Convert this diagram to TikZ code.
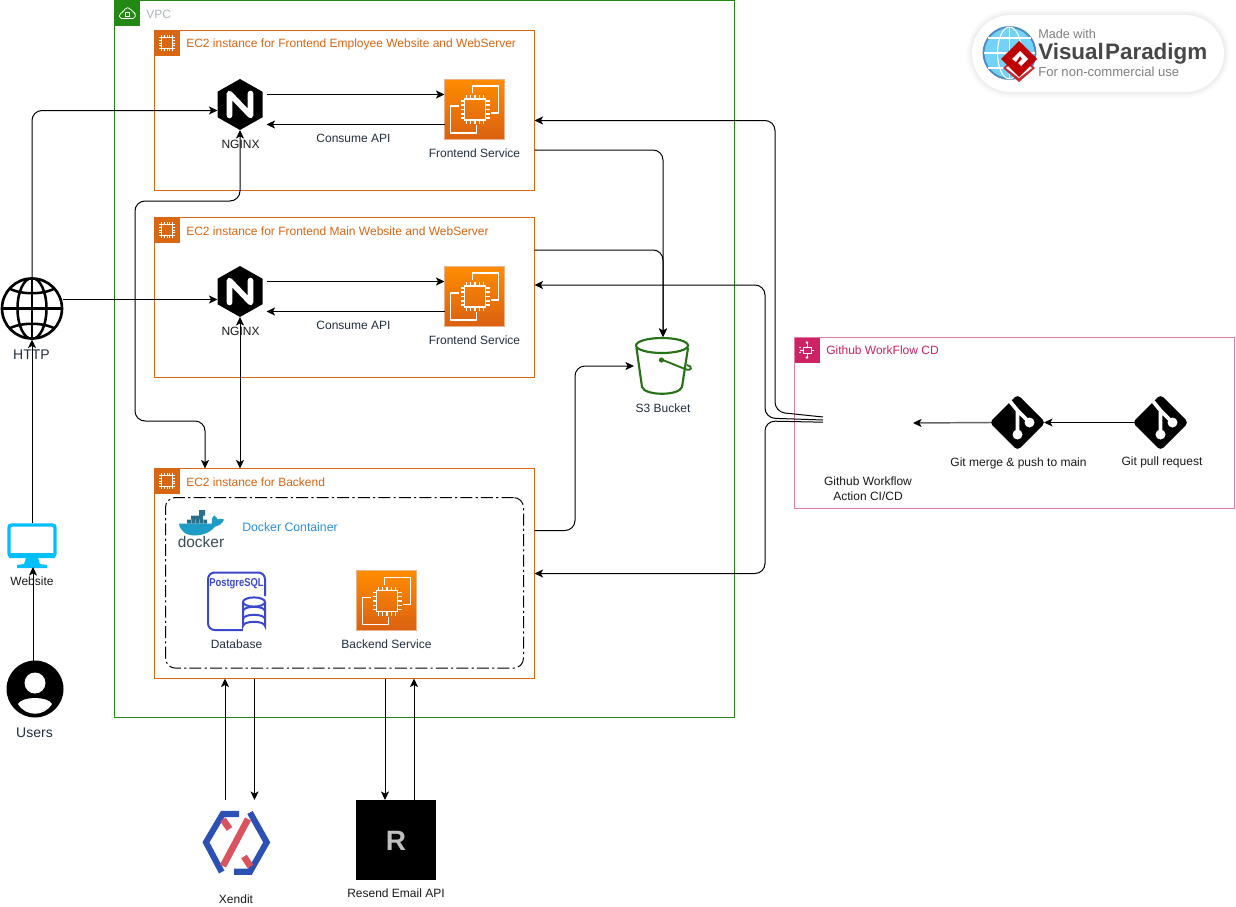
\documentclass[tikz,border=0pt]{standalone}
\usepackage{fontspec}
\setmainfont{Liberation Sans}
\usetikzlibrary{arrows.meta,calc}
\definecolor{vpcgreen}{HTML}{248814}
\definecolor{ec2orange}{HTML}{D86613}
\definecolor{ink}{HTML}{232F3E}
\definecolor{ghpink}{HTML}{CD2264}
\definecolor{ghline}{HTML}{E87BA6}
\definecolor{s3green}{HTML}{277116}
\definecolor{pgblue}{HTML}{3B48CC}
\definecolor{dockblue}{HTML}{2B8FE0}
\definecolor{cyanmon}{HTML}{00BFFF}
\definecolor{xblue}{HTML}{2D50B5}
\definecolor{xred}{HTML}{D9545E}
\definecolor{dockdark}{HTML}{2A6F8A}
\definecolor{dockbody}{HTML}{1D9CC6}
\definecolor{dockword}{HTML}{394D54}
\definecolor{vpcgray}{HTML}{AAB7B8}
\tikzset{
  conn/.style={draw=black,line width=.75pt,-{Stealth[length=6.4pt,width=6pt,inset=1.6pt]},rounded corners=7.5pt},
  connboth/.style={conn,{Stealth[length=6.4pt,width=6pt,inset=1.6pt]}-{Stealth[length=6.4pt,width=6pt,inset=1.6pt]}},
  group/.style={draw=#1,line width=.75pt,inner sep=0,outer sep=0,fill=none},
  ec2box/.style={group=ec2orange,minimum width=285pt,anchor=north west},
  slot/.style={inner sep=0,outer sep=0,minimum width=#1},
  lbl/.style={font=\fontsize{9}{11}\selectfont,text=ink,inner sep=0,align=center},
  lblk/.style={font=\fontsize{9}{11}\selectfont,text=black!90,inner sep=0,align=center},
  title/.style={font=\fontsize{9}{11}\selectfont,inner sep=0,anchor=west},
  ec2small/.pic={
    \fill[ec2orange] (0,0) rectangle (25,25);
    \draw[white,line width=.9pt] (7,7) rectangle (18,18);
    \foreach \p in {7,9.75,12.5,15.25,18}{
      \draw[white,line width=.5pt] (\p,7)--(\p,4.5) (\p,18)--(\p,20.5) (7,\p)--(4.5,\p) (18,\p)--(20.5,\p);}
  },
  svcicon/.pic={
    \shade[top color=orange!90!yellow,bottom color=ec2orange!95!red,draw=ec2orange!50!white,line width=.4pt] (-30,-30) rectangle (30,30);
    \draw[white,line width=1.2pt,line join=round] (-2,-16)--(-2,-23)--(24,-23)--(24,4)--(16,4);
    \draw[white,line width=1.2pt,line join=round] (-16,-3)--(-24,-3)--(-24,24)--(2,24)--(2,16);
    \draw[white,line width=1.3pt] (-10,-10) rectangle (11,11);
    \foreach \p in {-8,-4,0.5,5,9}{
      \draw[white,line width=.8pt] (\p,-10)--(\p,-14) (\p,11)--(\p,15) (-10,\p)--(-14,\p) (11,\p)--(15,\p);}
  },
  ngicon/.pic={
    \fill[black] (0,-25.5)--(22.5,-12.75)--(22.5,12.75)--(0,25.5)--(-22.5,12.75)--(-22.5,-12.75)--cycle;
    \draw[white,line width=4.2pt,line join=round,line cap=round] (-10.5,11)--(-10.5,-11)--(10.5,11)--(10.5,-11);
  },
  gitglyph/.pic={
    \fill[black,rounded corners=3pt] (0,-28)--(28,0)--(0,28)--(-28,0)--cycle;
    \draw[white,line width=2.8pt] (-9,-23)--(0,-12)--(0,12) (0,-12)--(12,0);
    \fill[white] (0,12) circle (5) (12,0) circle (5);
  }
}
\begin{document}
\begin{tikzpicture}[x=.75pt,y=-.75pt]
\useasboundingbox (0,0) rectangle (1236,907);
\fill[white] (0,0) rectangle (1236,907);

% ---- watermark
\foreach \w/\o in {12/.012,9/.016,6/.02,3/.025}{
  \draw[black,opacity=\o,line width=\w*.75pt,rounded corners=29pt] (972,15) rectangle (1224,92);}
\fill[white,rounded corners=29pt] (972,15) rectangle (1224,92);
\begin{scope}
  \fill[cyan!55!white] (1009.5,53) circle (26);
  \draw[teal!70!blue!70!white,line width=1.4pt] (1009.5,53) circle (26);
  \draw[white,line width=.8pt] (1009.5,27)--(1009.5,79) (984,53)--(1035,53) (988,38)--(1031,38) (988,68)--(1031,68);
  \draw[white,line width=.8pt] (1009.5,53) ellipse (12 and 26);
  \fill[xred!60!red!85!black] (1019,82)--(1003,68)--(1019,54)--(1035,68)--cycle;
  \fill[white] (1019,78)--(1006,68)--(1019,58)--(1032,68)--cycle;
  \fill[red!75!black] (1019,77)--(1001,59)--(1019,41)--(1037,59)--cycle;
  \fill[white] (1012,59)--(1020,51)--(1028,59)--(1021,66)--(1018,63)--(1022,59)--(1020,56)--(1016,62)--cycle;
\end{scope}
\node[anchor=west,inner sep=0,text=black!50,font=\fontsize{9.5}{11}\selectfont] (vpa) at (1038,34) {Made with};
\node[anchor=west,inner sep=0,text=black!72,font=\fontsize{16.8}{18}\bfseries\selectfont] (vpb) at (1038,54) {Visual\kern1pt Paradigm};
\node[anchor=west,inner sep=0,text=black!50,font=\fontsize{9.8}{11}\selectfont] (vpd) at (1038,72) {For non-commercial use};

% ---- VPC
\node[group=vpcgreen,minimum width=465pt,minimum height=537.75pt,anchor=north west] (vpc) at (114.5,.5) {};
\fill[vpcgreen] (114.5,.5) rectangle (139.5,25.5);
\draw[white,line width=.55pt,rounded corners=1.5pt] (119.5,18.5)--(135,18.5)--(135.5,13)--(132,11.5)--(130,8)--(125.5,7.5)--(123.5,12)--(119,14)--cycle;
\draw[white,line width=.5pt] (125.5,12.5) rectangle (129.5,16);
\node[title,text=vpcgray] (vpct) at (146,14) {VPC};

% ---- EC2 frontend employee
\node[ec2box,minimum height=120pt] (ec2a) at (154.5,30.5) {};
\pic at (154.5,30.5) {ec2small};
\node[title,text=ec2orange] (ec2at) at (186,44.5) {EC2 instance for Frontend Employee Website and WebServer};
\node[slot=33.75pt,minimum height=38.25pt] (nginx1) at (240,104.5) {};
\pic at (nginx1) {ngicon};
\node[lblk] (nginx1l) at (240.5,144) {NGINX};
\node[slot=45pt,minimum height=45pt] (svc1) at (474.5,109) {};
\pic at (svc1) {svcicon};
\node[lbl] (svc1l) at (474.5,153) {Frontend Service};
\node[lbl] (api1) at (353.5,138) {Consume API};

% ---- EC2 frontend main
\node[ec2box,minimum height=120pt] (ec2m) at (154.5,217.5) {};
\pic at (154.5,217.5) {ec2small};
\node[title,text=ec2orange] (ec2mt) at (186,231.5) {EC2 instance for Frontend Main Website and WebServer};
\node[slot=33.75pt,minimum height=38.25pt] (nginx2) at (240,291.5) {};
\pic at (nginx2) {ngicon};
\node[lblk] (nginx2l) at (240.5,331) {NGINX};
\node[slot=45pt,minimum height=45pt] (svc2) at (474.5,296) {};
\pic at (svc2) {svcicon};
\node[lbl] (svc2l) at (474.5,340) {Frontend Service};
\node[lbl] (api2) at (353.5,325) {Consume API};

% ---- EC2 backend
\node[ec2box,minimum height=157.5pt] (ec2b) at (154.5,468.5) {};
\pic at (154.5,468.5) {ec2small};
\node[title,text=ec2orange] (ec2bt) at (186,482) {EC2 instance for Backend};
\node[draw=black,line width=.75pt,dash pattern=on 9pt off 2.4pt on 1.6pt off 2.4pt,rounded corners=7.5pt,minimum width=268.5pt,minimum height=128pt,inner sep=0,outer sep=0,anchor=north west] (dock) at (165.5,497.5) {};
% docker logo
\node[slot=36pt,minimum height=33pt] (docklogo) at (201,529) {};
\fill[dockdark] (187,519.5) rectangle (207,523.5) (191,515.5) rectangle (203,519.5) (199,510) rectangle (205,515.5);
\fill[white] (191,519.3) rectangle (191.4,523.5) (195,519.3) rectangle (195.4,523.5) (199,519.3) rectangle (199.4,523.5) (203,519.3) rectangle (203.4,523.5);
\fill[dockbody] (179,523.5)--(212,523.5) .. controls (211,519) and (213,516) .. (214.5,515.5) .. controls (216.5,517) and (217,518.5) .. (217.5,519.5) .. controls (220,518.5) and (222,518.5) .. (224,519.5) .. controls (222,524.5) and (218,526) .. (215,526.5) .. controls (210,533) and (202,535.5) .. (195,535.5) .. controls (186,535.5) and (180,531) .. (179,523.5) -- cycle;
\node[inner sep=0,text=dockword,font=\fontsize{11.6}{13}\selectfont] (dockw) at (201,542) {docker};
\node[title,text=dockblue,font=\fontsize{9.2}{11}\selectfont] (dockt) at (242,527) {Docker Container};
% postgres
\node[slot=44.25pt,minimum height=44pt] (pg) at (236.5,601) {};
\draw[pgblue,line width=1.5pt,rounded corners=5pt] (265,596)--(265,572.5)--(208,572.5)--(208,630)--(243,630);
\fill[white] (243,597) rectangle (266,631);
\draw[pgblue,line width=1.5pt] (243,602)--(243,626) arc[start angle=180,end angle=0,x radius=11,y radius=-4.2]--(265,602);
\draw[pgblue,line width=1.5pt] (254,602) ellipse (11 and 4.6);
\draw[pgblue,line width=1.5pt] (243,611) arc[start angle=180,end angle=0,x radius=11,y radius=-4.2] (243,619) arc[start angle=180,end angle=0,x radius=11,y radius=-4.2];
\node[inner sep=0,text=pgblue,font=\fontsize{8.6}{9}\bfseries\selectfont] (pgt) at (236.5,583.5) {\scalebox{.82}[1]{PostgreSQL}};
\node[lbl] (pgl) at (236.5,644) {Database};
\node[slot=45pt,minimum height=45pt] (svc3) at (386.5,600.5) {};
\pic at (svc3) {svcicon};
\node[lbl] (svc3l) at (386.5,644) {Backend Service};

% ---- S3
\node[slot=43.5pt,minimum height=43.5pt] (s3) at (663,366) {};
\draw[s3green,line width=1.6pt] (662,345.5) ellipse (26 and 7.5);
\draw[s3green,line width=1.6pt] (636.5,348) -- (642,387) .. controls (645,396) and (679,396) .. (682,387) -- (688,348);
\draw[s3green,line width=1.4pt] (664,360.5) -- (685,369) .. controls (692,372) and (693,366) .. (687,365);
\fill[s3green] (661.5,360) circle (2.6);
\node[lbl] (s3l) at (663,408.5) {S3 Bucket};

% ---- Github workflow
\node[draw=ghline,line width=1pt,inner sep=0,outer sep=0,minimum width=330pt,minimum height=128pt,anchor=north west] (gh) at (794.5,337.5) {};
\fill[ghpink] (794.5,337.5) rectangle (819.5,362.5);
\draw[white,line width=.5pt] (800,350)--(814,350) (807,343)--(807,357);
\draw[white,line width=.5pt,fill=ghpink] (803,347) rectangle (811,353);
\fill[white] (807,342.5) circle (1.3) (807,357.5) circle (1.3) (800,347.5) circle (.9) (800,352.5) circle (.9);
\node[title,text=ghpink] (ght) at (826,350) {Github WorkFlow CD};
\node[slot=67.5pt,minimum height=45pt] (gha) at (868,423) {};
\node[lblk] (ghal) at (868,488.5) {Github Workflow\\Action CI/CD};
\node[slot=39.75pt,minimum height=39.75pt] (merge) at (1017.5,422.5) {};
\pic at (merge) {gitglyph};
\node[lblk] (mergel) at (1018.5,463) {Git merge \& push to main};
\node[slot=39.75pt,minimum height=39.75pt] (pull) at (1160.5,422.5) {};
\pic at (pull) {gitglyph};
\node[lblk] (pulll) at (1162,462) {Git pull request};

% ---- left column
\node[slot=46.5pt,minimum height=46.5pt] (globe) at (32,308.5) {};
\begin{scope}
  \clip (32,308.5) circle (30.5);
  \draw[black,line width=1.9pt] (32,278)--(32,339) (1,308.5)--(63,308.5);
  \draw[black,line width=1.9pt] (32,308.5) ellipse (14.5 and 30.5);
  \draw[black,line width=1.9pt] (4,285) .. controls (16,296) and (48,296) .. (60,285);
  \draw[black,line width=1.9pt] (4,332) .. controls (16,321) and (48,321) .. (60,332);
\end{scope}
\draw[black,line width=2pt] (32,308.5) circle (30);
\node[lbl,font=\fontsize{10.5}{12}\selectfont] (globel) at (31.5,355) {HTTP};
\node[slot=37.5pt,minimum height=33pt] (website) at (32,545) {};
\draw[cyanmon,line width=2.6pt,rounded corners=2pt] (9,525) rectangle (55,556);
\fill[cyanmon] (9,553) rectangle (55,558) (26,558)--(38,558)--(40,564)--(47,565)--(47,568)--(17,568)--(17,565)--(24,564)--cycle;
\node[lblk] (websitel) at (32,581) {Website};
\node[slot=42pt,minimum height=42pt] (users) at (33,689) {};
\fill[black] (35,689) circle (28.5);
\fill[white] (35,683) circle (10.5);
\fill[white] (18,704) .. controls (22,696) and (48,696) .. (52,704) .. controls (44,717) and (26,717) .. (18,704) -- cycle;
\node[lbl,font=\fontsize{10.5}{12}\selectfont] (usersl) at (34.5,732.5) {Users};

% ---- external
\node[slot=60pt,minimum height=60pt] (xendit) at (236,840) {};
\draw[xblue,line width=4.6pt,line join=miter] (239,814)--(222.7,814)--(206,842.3)--(221.7,872);
\draw[xblue,line width=4.6pt,line join=miter] (250,812.5)--(266.7,842.3)--(250,871.7)--(234,871.7);
\draw[xred,line width=5pt] (248,819)--(223,866);
\draw[xred,line width=5pt] (223,819.5)--(229.5,829);
\draw[xred,line width=5pt] (244,856.5)--(250.5,866.5);
\node[lblk] (xenditl) at (236,899.5) {Xendit};
\node[fill=black,slot=60pt,minimum height=60pt] (resend) at (396,840) {};
\node[inner sep=0,text=black!25,font=\fontsize{21}{22}\bfseries\selectfont] (resendr) at (396,841) {R};
\node[lblk] (resendl) at (396,893.5) {Resend Email API};

% ---- connectors
\draw[conn] ($(nginx1.east)+(4,-10)$) -- ($(svc1.west)+(0,-14.5)$);
\draw[conn] ($(svc1.west)+(0,15.5)$) -- ($(nginx1.east)+(4,20)$);
\draw[conn] ($(nginx2.east)+(4,-10)$) -- ($(svc2.west)+(0,-14.5)$);
\draw[conn] ($(svc2.west)+(0,15.5)$) -- ($(nginx2.east)+(4,20)$);

\coordinate (n1in) at ($(nginx1.west)+(0,6)$);
\draw[conn] (globe.north) -- (globe.north |- n1in) -- (n1in);
\coordinate (n2in) at ($(nginx2.west)+(0,8)$);
\coordinate (gout) at (globe.east |- n2in);
\draw[conn] (gout) -- (n2in);
\draw[conn] (website.north) -- (globe.south);
\draw[conn] (users.north) -- (users.north |- website.south);

\coordinate (bk1) at ($(ec2b.north west)+(50.5,0)$);
\draw[connboth] (nginx1.south) -- ++(0,71) -- ++(-105,0) -- ++(0,220) -- ++(70,0) -- (bk1);
\draw[connboth] (nginx2.south) -- (nginx2.south |- ec2b.north);

\coordinate (a1) at ($(ec2a.east)+(0,39.5)$);
\draw[conn] (a1) -- (s3.north |- a1) -- (s3.north);
\coordinate (m1) at ($(ec2m.east)+(0,-47.5)$);
\draw[conn] (m1) -- (s3.north |- m1) -- (s3.north);
\coordinate (b1) at ($(ec2b.east)+(0,-43)$);
\draw[conn] (b1) -- ++(40.5,0) -- ++(0,-164.5) -- (s3.west);

\coordinate (g1) at ($(gha.west)+(0,-6)$);
\coordinate (g2) at ($(gha.west)+(0,-3)$);
\coordinate (g3) at ($(gha.west)+(0,-.8)$);
\coordinate (t1) at ($(ec2a.east)+(0,10)$);
\coordinate (t2) at ($(ec2m.east)+(0,-12.5)$);
\draw[conn] (g1) -- (775,412) -- (775,120.5) -- (t1);
\draw[conn] (g2) -- (765,418) -- (765,285) -- (t2);
\draw[conn] (g3) -- (765,421) -- (765,573.5) -- (ec2b.east);

\draw[conn,draw=black!60,line width=1.1pt,-{Stealth[length=6.4pt,width=6pt,inset=1.6pt,color=black]}] (merge.west) -- (gha.east);
\draw[conn] (pull.west) -- (merge.east);

\coordinate (xa) at ($(xendit.north)+(-11,0)$);
\coordinate (xb) at ($(xendit.north)+(18.5,0)$);
\coordinate (ra) at ($(resend.north)+(-11,0)$);
\coordinate (rb) at ($(resend.north)+(18,0)$);
\draw[conn] (xa) -- (xa |- ec2b.south);
\draw[conn] (xb |- ec2b.south) -- (xb);
\draw[conn] (ra |- ec2b.south) -- (ra);
\draw[conn] (rb) -- (rb |- ec2b.south);
\end{tikzpicture}
\end{document}
